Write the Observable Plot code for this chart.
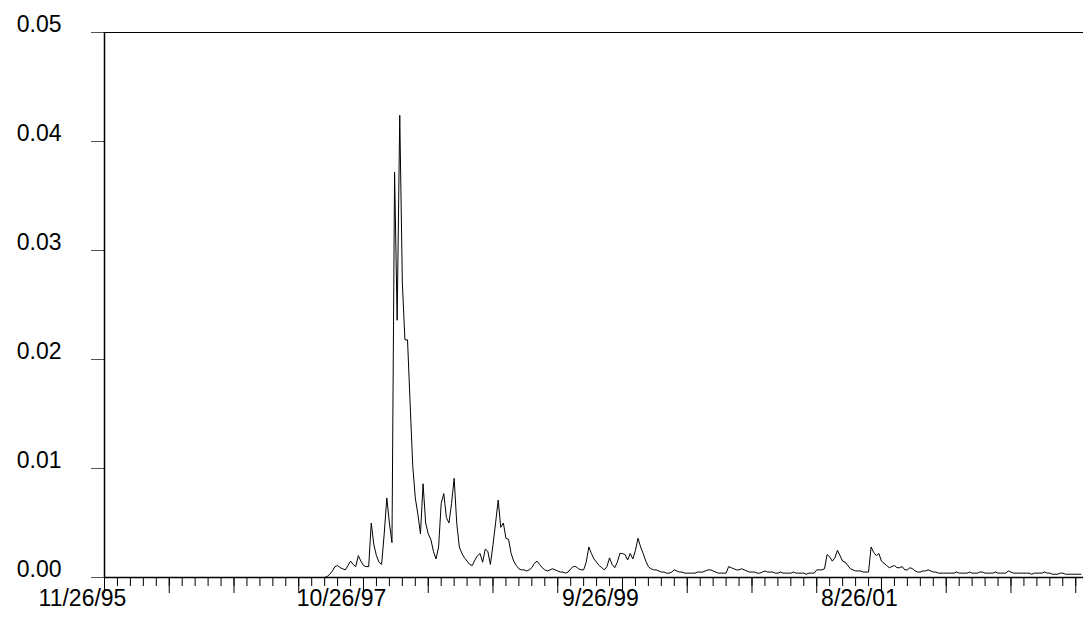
<!DOCTYPE html>
<html><head><meta charset="utf-8">
<script src="https://cdn.jsdelivr.net/npm/d3@7"></script>
<script src="https://cdn.jsdelivr.net/npm/@observablehq/plot@0.6"></script>
<style>body{margin:0;background:#fff}</style>
</head><body><div id="chart"></div>
<script>
const leadingZeros = 86; // weeks 0..85 with value 0
const activeValues = [
0.0001,0.0003,0.0006,0.0010,0.0011,0.0009,0.0008,0.0007,0.0011,0.0015,0.0012,0.0010,0.0020,0.0015,0.0011,0.0010,0.0010,0.0050,0.0030,0.0020,
0.0014,0.0012,0.0040,0.0073,0.0050,0.0032,0.0372,0.0236,0.0424,0.0270,0.0218,0.0218,0.0160,0.0103,0.0073,0.0058,0.0040,0.0086,0.0050,0.0040,
0.0035,0.0024,0.0017,0.0028,0.0068,0.0077,0.0055,0.0050,0.0068,0.0091,0.0050,0.0028,0.0022,0.0018,0.0015,0.0012,0.0011,0.0016,0.0020,0.0022,
0.0014,0.0026,0.0024,0.0012,0.0030,0.0050,0.0071,0.0046,0.0050,0.0036,0.0035,0.0022,0.0015,0.0011,0.0008,0.0007,0.0007,0.0006,0.0007,0.0009,
0.0013,0.0015,0.0012,0.0009,0.0007,0.0006,0.0007,0.0008,0.0007,0.0006,0.0005,0.0005,0.0004,0.0005,0.0008,0.0010,0.0010,0.0008,0.0007,0.0007,
0.0014,0.0028,0.0022,0.0017,0.0014,0.0011,0.0009,0.0007,0.0010,0.0018,0.0012,0.0009,0.0014,0.0022,0.0022,0.0021,0.0016,0.0022,0.0017,0.0025,
0.0036,0.0028,0.0022,0.0015,0.0010,0.0008,0.0007,0.0007,0.0006,0.0005,0.0005,0.0004,0.0004,0.0005,0.0007,0.0006,0.0005,0.0005,0.0004,0.0004,
0.0004,0.0004,0.0004,0.0005,0.0005,0.0005,0.0006,0.0007,0.0007,0.0006,0.0005,0.0004,0.0004,0.0004,0.0004,0.0010,0.0009,0.0008,0.0007,0.0007,
0.0008,0.0007,0.0006,0.0005,0.0005,0.0005,0.0004,0.0004,0.0005,0.0006,0.0005,0.0005,0.0005,0.0004,0.0004,0.0005,0.0004,0.0004,0.0004,0.0004,
0.0005,0.0004,0.0004,0.0004,0.0004,0.0003,0.0004,0.0004,0.0004,0.0007,0.0007,0.0007,0.0008,0.0021,0.0019,0.0015,0.0018,0.0025,0.0020,0.0015,
0.0014,0.0011,0.0008,0.0007,0.0006,0.0006,0.0006,0.0005,0.0005,0.0005,0.0028,0.0023,0.0020,0.0022,0.0015,0.0013,0.0011,0.0009,0.0010,0.0011,
0.0009,0.0009,0.0010,0.0007,0.0007,0.0009,0.0008,0.0006,0.0005,0.0005,0.0006,0.0006,0.0007,0.0006,0.0005,0.0005,0.0004,0.0004,0.0004,
0.0004,0.0004,0.0004,0.0004,0.0005,0.0004,0.0004,0.0004,0.0004,0.0005,0.0004,0.0004,0.0004,0.0005,0.0005,0.0004,0.0004,0.0004,0.0004,0.0005,
0.0004,0.0004,0.0004,0.0004,0.0006,0.0005,0.0004,0.0004,0.0004,0.0004,0.0004,0.0004,0.0004,0.0003,0.0004,0.0004,0.0004,0.0004,0.0005,0.0004,
0.0004,0.0003,0.0003,0.0003,0.0004,0.0004,0.0003,0.0003,0.0003,0.0003,0.0003,0.0003,0.0003
];
const yTicks = [0, 0.01, 0.02, 0.03, 0.04, 0.05];
const xLabelWeeks = [0, 100, 200, 300];
const xLabels = ["11/26/95", "10/26/97", "9/26/99", "8/26/01"];

const values = Array(leadingZeros).fill(0).concat(activeValues);
const data = values.map((v, i) => ({week: i, v}));
const xMax = 378;
const minor = d3.range(0, xMax + 1, 5);
const major = d3.range(0, xMax + 1, 25);

const chart = Plot.plot({
  width: 1085, height: 618,
  marginLeft: 104, marginRight: 2, marginTop: 32, marginBottom: 41,
  style: {fontFamily: "Liberation Sans, Arial, sans-serif", fontSize: "23px", color: "#000", overflow: "visible"},
  x: {domain: [0, xMax]},
  y: {domain: [0, 0.05]},
  marks: [
    Plot.axisY(yTicks, {tickSize: 13, tickFormat: () => "", label: null, stroke: "#555"}),
    Plot.axisY(yTicks, {tickSize: 0, tickPadding: 43, dy: -8, tickFormat: d => d.toFixed(2), fontSize: 23, label: null}),
    Plot.axisX(minor, {tickSize: 9, tickFormat: () => "", label: null}),
    Plot.axisX(major, {tickSize: 16, tickFormat: () => "", label: null}),
    Plot.axisX(xLabelWeeks, {tickSize: 0, tickPadding: 12, dx: -22, tickFormat: (d) => xLabels[xLabelWeeks.indexOf(d)], fontSize: 23, label: null}),
    Plot.ruleY([0], {strokeWidth: 1.5}),
    Plot.ruleX([0], {strokeWidth: 1.5}),
    Plot.ruleY([0.05], {strokeWidth: 1.2}),
    Plot.lineY(data, {x: "week", y: "v", stroke: "#000", strokeWidth: 1})
  ]
});
document.getElementById("chart").appendChild(chart);
</script></body></html>
